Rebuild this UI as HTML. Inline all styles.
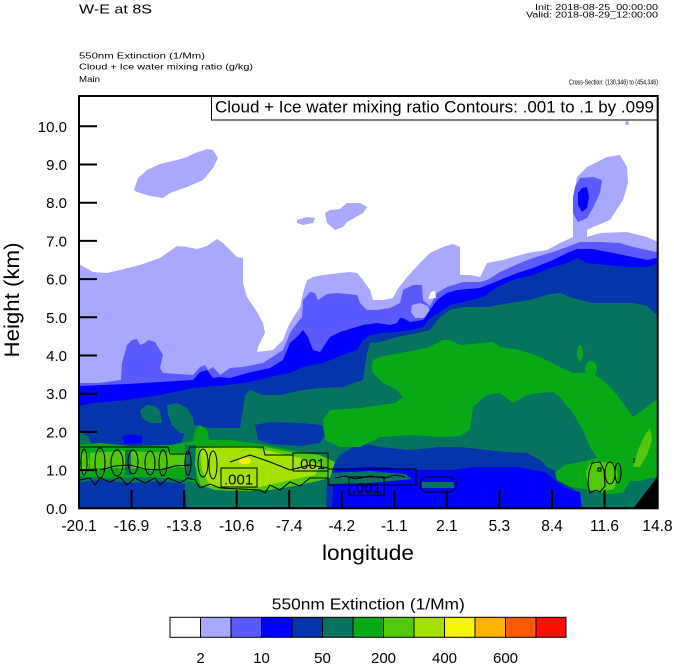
<!DOCTYPE html>
<html><head><meta charset="utf-8"><style>
html,body{margin:0;padding:0;background:#fff;}
svg{display:block;font-family:"Liberation Sans",Arial,sans-serif;}
</style></head><body>
<svg width="674" height="667" viewBox="0 0 674 667" xmlns="http://www.w3.org/2000/svg">
<defs><clipPath id="pc"><rect x="79" y="96" width="579" height="412.5"/></clipPath></defs>
<rect x="0" y="0" width="674" height="667" fill="#fff"/>

<!-- header -->
<text x="79" y="13.5" font-size="13" textLength="73" lengthAdjust="spacingAndGlyphs">W-E at 8S</text>
<text x="658" y="10" font-size="8.5" text-anchor="end" textLength="123" lengthAdjust="spacingAndGlyphs">Init: 2018-08-25_00:00:00</text>
<text x="658" y="17.5" font-size="8.5" text-anchor="end" textLength="132" lengthAdjust="spacingAndGlyphs">Valid: 2018-08-29_12:00:00</text>
<text x="79" y="58.5" font-size="8.5" textLength="126" lengthAdjust="spacingAndGlyphs">550nm Extinction   (1/Mm)</text>
<text x="79" y="69.5" font-size="8.5" textLength="174" lengthAdjust="spacingAndGlyphs">Cloud + Ice water mixing ratio   (g/kg)</text>
<text x="79" y="82" font-size="8.5" textLength="21" lengthAdjust="spacingAndGlyphs">Main</text>
<text x="658" y="84.5" font-size="7.5" text-anchor="end" textLength="89" lengthAdjust="spacingAndGlyphs">Cross-Section: (130,346) to (454,346)</text>

<g clip-path="url(#pc)">
<!-- lavender -->
<path fill="#a8a8ff" d="M79,264 L93,272 L107,273 L120,270 L140,265 L160,258 L177,246 L187,247 L197,249 L207,246 L217,239 L223,243 L230,250 L237,257 L243,258 L243,283 L247,297 L257,312 L263,323 L265,333 L258,347 L257,352 L273,350 L283,340 L288,327 L293,318 L300,307 L303,293 L307,280 L313,277 L323,275 L340,273 L350,272 L357,273 L363,280 L370,290 L373,300 L383,300 L393,298 L397,290 L407,277 L420,263 L430,253 L443,247 L453,244 L460,247 L460,275 L470,275 L480,277 L487,263 L503,260 L527,253 L547,250 L560,243 L573,237 L573,223 L573,200 L577,177 L587,167 L607,157 L620,155 L627,167 L628,183 L623,200 L610,220 L593,227 L587,230 L587,237 L600,233 L627,232 L647,237 L660,243 L660,510 L79,510 Z"/>
<path fill="#a8a8ff" d="M134,190 L138,178 L147,170 L160,164 L177,160 L187,157 L195,153 L207,149 L213,150 L218,158 L213,168 L203,180 L187,187 L170,193 L163,198 L150,196 L137,192 Z"/>
<path fill="#a8a8ff" d="M297,220 L307,217 L315,218 L313,223 L303,225 L297,223 Z"/>
<path fill="#a8a8ff" d="M325,213 L330,210 L340,209 L347,203 L360,203 L367,207 L363,213 L347,222 L343,227 L335,230 L327,223 Z"/>
<circle cx="627" cy="123" r="2" fill="#a8a8ff"/>

<!-- medium -->
<path fill="#5a5aff" d="M79,383 L99,383 L121,380 L122,363 L127,345 L132,340 L137,339 L140,345 L145,343 L148,340 L155,342 L160,350 L163,355 L160,368 L163,373 L193,375 L200,367 L205,365 L208,370 L213,367 L220,375 L230,368 L243,367 L263,363 L283,350 L290,333 L297,323 L302,317 L303,300 L310,292 L315,293 L318,300 L327,294 L337,293 L357,295 L360,303 L367,310 L377,310 L390,308 L400,303 L403,290 L413,285 L422,285 L423,300 L430,306 L437,293 L447,287 L463,282 L480,282 L487,280 L500,272 L520,263 L533,258 L553,252 L567,247 L580,242 L600,242 L620,243 L633,247 L647,250 L660,253 L660,510 L79,510 Z"/>
<path fill="#5a5aff" d="M573,197 L575,187 L580,178 L593,177 L602,180 L600,193 L593,208 L587,218 L578,222 L573,213 Z"/>
<path fill="#a8a8ff" d="M412,305 L420,303 L428,306 L430,312 L425,318 L415,318 L411,312 Z"/>
<path fill="#ffffff" d="M428,299 L431,292 L435,291 L436,298 Z"/>

<!-- blue -->
<path fill="#0000ff" d="M79,386 L127,384 L160,382 L193,380 L200,372 L207,370 L213,378 L220,377 L230,378 L247,373 L270,368 L283,360 L290,343 L297,337 L303,330 L308,337 L313,350 L320,352 L330,337 L340,332 L353,328 L363,325 L377,323 L390,325 L397,323 L400,318 L403,318 L410,322 L423,320 L430,310 L437,300 L447,293 L457,290 L480,288 L500,280 L517,273 L533,268 L553,260 L567,253 L577,249 L593,249 L613,253 L633,257 L647,260 L660,257 L660,510 L79,510 Z"/>
<path fill="#0000ff" d="M578,193 L582,188 L587,187 L589,197 L587,208 L582,212 L578,205 Z"/>

<!-- dark blue -->
<path fill="#0535aa" d="M79,406 L93,403 L127,400 L160,395 L193,388 L227,385 L250,382 L270,377 L290,373 L303,367 L323,363 L343,355 L357,350 L363,340 L370,335 L383,333 L397,332 L410,330 L423,327 L430,318 L440,312 L450,305 L463,302 L483,297 L497,287 L513,280 L533,275 L550,268 L567,263 L577,258 L587,263 L607,265 L627,267 L647,267 L660,263 L660,510 L79,510 Z"/>

<!-- teal -->
<path fill="#06735f" d="M140,410 L147,405 L155,406 L160,412 L162,423 L150,423 L142,418 Z"/>
<path fill="#06735f" d="M167,405 L177,403 L187,408 L193,418 L195,433 L180,433 L172,425 L168,415 Z"/>
<path fill="#06735f" d="M79,432 L88,436 L92,446 L180,446 L186,430 L193,425 L200,426 L210,428 L240,428 L245,395 L250,390 L263,395 L280,395 L303,390 L320,388 L343,387 L363,380 L367,353 L370,343 L380,342 L397,337 L417,333 L430,330 L440,317 L450,310 L463,307 L487,307 L510,303 L530,300 L550,294 L560,293 L573,298 L593,303 L633,303 L647,306 L660,318 L660,510 L79,510 Z"/>
<path fill="#0000ff" d="M122,437 L130,434 L142,436 L142,443 L125,444 Z"/>
<path fill="#0535aa" d="M255,425 L270,422 L300,423 L322,425 L325,435 L320,443 L300,446 L270,444 L258,440 Z"/>

<!-- bottom lower-value areas -->
<path fill="#0535aa" d="M79,482 L100,480 L130,483 L160,481 L185,484 L187,510 L79,510 Z"/>
<path fill="#0535aa" d="M326,490 L330,470 L340,455 L360,443 L380,447 L410,450 L440,447 L460,447 L487,450 L507,452 L527,453 L540,460 L547,467 L560,473 L572,485 L575,510 L326,510 Z"/>
<path fill="#0000ff" d="M332,510 L334,470 L360,467 L383,467 L414,470 L453,470 L474,467 L517,467 L545,472 L552,478 L565,488 L580,492 L582,510 Z"/>
<path fill="#06735f" d="M330,473 L370,471 L405,474 L412,479 L370,483 L330,484 Z"/>
<path fill="#06735f" d="M422,482 L454,482 L454,488 L422,488 Z"/>

<!-- green main -->
<path fill="#07aa15" d="M373,360 L380,357 L400,353 L427,348 L443,340 L450,340 L460,345 L493,342 L500,347 L520,350 L540,357 L560,367 L573,373 L590,373 L600,378 L613,390 L623,403 L633,417 L643,410 L660,397 L660,477 L650,478 L640,481 L630,481 L623,493 L607,494 L590,490 L570,487 L557,480 L555,472 L565,465 L590,460 L597,458 L590,447 L583,430 L573,413 L560,397 L553,392 L540,393 L527,395 L513,403 L500,393 L487,395 L473,407 L470,430 L460,436 L440,437 L410,435 L380,437 L360,447 L340,447 L325,440 L323,420 L330,410 L360,408 L395,403 L403,397 L397,390 L383,383 L373,373 L372,367 Z"/>
<ellipse cx="580" cy="353" rx="3" ry="8" fill="#07aa15"/>
<ellipse cx="591" cy="369" rx="6" ry="8" fill="#07aa15"/>

<!-- left contour region -->
<path fill="#07aa15" d="M79,445 L100,443 L130,446 L170,445 L200,440 L230,440 L260,444 L290,450 L320,455 L330,462 L320,475 L300,480 L270,487 L240,490 L220,487 L200,484 L185,480 L170,478 L140,477 L110,478 L90,477 L79,476 Z"/>
<path fill="#07aa15" d="M195,430 L200,425 L207,430 L210,445 L200,450 L193,445 Z"/>
<path fill="#52c80c" d="M90,453 L120,451 L150,452 L185,453 L186,467 L150,469 L120,468 L90,468 Z"/>
<path fill="#06735f" d="M125,450 L131,450 L131,475 L125,475 Z"/>
<path fill="#06735f" d="M185,445 L196,445 L196,480 L185,480 Z"/>
<ellipse cx="85" cy="462" rx="4" ry="10" fill="#52c80c"/>
<path fill="#52c80c" d="M196,446 L260,446 L290,452 L320,455 L335,462 L330,478 L300,485 L270,490 L240,491 L215,490 L200,485 L195,465 Z"/>
<path fill="#a5e100" d="M200,448 L250,447 L275,452 L300,458 L320,465 L315,475 L290,480 L260,487 L230,488 L210,486 L202,470 Z"/>
<ellipse cx="245" cy="461" rx="6" ry="3.5" fill="#f5f500"/>

<!-- right bottom -->
<path fill="#52c80c" d="M588,465 L600,462 L614,463 L618,475 L614,489 L600,492 L590,490 L586,475 Z"/>
<path fill="#52c80c" d="M633,467 L638,450 L645,435 L650,428 L652,440 L647,455 L640,467 Z"/>
<path fill="#000" d="M633,509 L658,476 L658,509 Z"/>

<!-- contours -->
<g fill="none" stroke="#000" stroke-width="1">
<polyline points="80,447 168,447 170,454 188,454 190,447 198,447 263,447 265,455 293,455"/>
<polyline points="80,480 90,478 95,485 100,478 110,482 120,477 127,485 135,478 145,483 155,478 160,485 168,478 180,483 188,478 195,480 200,488 210,484 220,488 260,490 265,493 270,485 280,490 290,482 300,486 310,478 328,478"/>
<polyline points="100,470 115,466 130,465 145,469 160,470 175,466 190,465"/>
<polyline points="230,462 250,455 270,462 290,470 310,465 328,468"/>
<ellipse cx="84" cy="462" rx="3" ry="13"/>
<ellipse cx="100" cy="463" rx="5" ry="15"/>
<ellipse cx="117" cy="463" rx="6" ry="13"/>
<ellipse cx="133" cy="462" rx="5" ry="12"/>
<ellipse cx="150" cy="463" rx="5" ry="12"/>
<ellipse cx="163" cy="463" rx="4" ry="13"/>
<ellipse cx="188" cy="463" rx="3" ry="12"/>
<ellipse cx="203" cy="463" rx="5" ry="14"/>
<ellipse cx="213" cy="465" rx="4" ry="14"/>
<rect x="328" y="469" width="88" height="16"/>
<polyline points="335,478 345,476 355,479 370,476 385,478 395,475 405,477"/>
<rect x="420" y="477" width="36" height="15" rx="7"/>
<path d="M592,463 L600,462 L604,470 L605,486 L600,492 L596,490 L590,493 L588,485 L589,472 Z"/>
<ellipse cx="610" cy="473" rx="5" ry="11"/>
<ellipse cx="618" cy="473" rx="3" ry="10"/>
<rect x="598" y="468" width="3" height="3"/>
<line x1="634" y1="458" x2="634" y2="463"/>
<rect x="221" y="468" width="36" height="19"/>
<rect x="293" y="453" width="35" height="18"/>
<rect x="349" y="477" width="35" height="18"/>
</g>
<text x="224" y="484.5" font-size="15">.001</text>
<text x="296" y="469" font-size="15">.001</text>
<text x="352" y="493" font-size="15">.001</text>
</g>

<!-- legend box -->
<rect x="211.5" y="96" width="446" height="24" fill="#fff" stroke="#000" stroke-width="1"/>
<text x="215" y="112.7" font-size="16.5" textLength="439" lengthAdjust="spacingAndGlyphs">Cloud + Ice water mixing ratio Contours: .001 to .1 by .099</text>

<!-- frame -->
<rect x="79" y="96" width="578.7" height="412.3" fill="none" stroke="#000" stroke-width="2"/>

<!-- ticks -->
<g stroke="#000" stroke-width="2">
<line x1="79" y1="470.1" x2="97" y2="470.1"/>
<line x1="79" y1="431.9" x2="97" y2="431.9"/>
<line x1="79" y1="393.7" x2="97" y2="393.7"/>
<line x1="79" y1="355.5" x2="97" y2="355.5"/>
<line x1="79" y1="317.3" x2="97" y2="317.3"/>
<line x1="79" y1="279.1" x2="97" y2="279.1"/>
<line x1="79" y1="240.9" x2="97" y2="240.9"/>
<line x1="79" y1="202.7" x2="97" y2="202.7"/>
<line x1="79" y1="164.5" x2="97" y2="164.5"/>
<line x1="79" y1="126.3" x2="97" y2="126.3"/>
<line x1="131.6" y1="490" x2="131.6" y2="508"/>
<line x1="184.1" y1="490" x2="184.1" y2="508"/>
<line x1="236.7" y1="490" x2="236.7" y2="508"/>
<line x1="289.2" y1="490" x2="289.2" y2="508"/>
<line x1="341.8" y1="490" x2="341.8" y2="508"/>
<line x1="394.3" y1="490" x2="394.3" y2="508"/>
<line x1="446.9" y1="490" x2="446.9" y2="508"/>
<line x1="499.4" y1="490" x2="499.4" y2="508"/>
<line x1="552" y1="490" x2="552" y2="508"/>
<line x1="604.5" y1="490" x2="604.5" y2="508"/>
</g>

<!-- y labels -->
<g font-size="15" text-anchor="end">
<text x="67" y="513.8">0.0</text>
<text x="67" y="475.6">1.0</text>
<text x="67" y="437.4">2.0</text>
<text x="67" y="399.2">3.0</text>
<text x="67" y="361">4.0</text>
<text x="67" y="322.8">5.0</text>
<text x="67" y="284.6">6.0</text>
<text x="67" y="246.4">7.0</text>
<text x="67" y="208.2">8.0</text>
<text x="67" y="170">9.0</text>
<text x="67" y="131.8">10.0</text>
</g>
<!-- x labels -->
<g font-size="15.5" text-anchor="middle">
<text x="79" y="531">-20.1</text>
<text x="131.6" y="531">-16.9</text>
<text x="184.1" y="531">-13.8</text>
<text x="236.7" y="531">-10.6</text>
<text x="289.2" y="531">-7.4</text>
<text x="341.8" y="531">-4.2</text>
<text x="394.3" y="531">-1.1</text>
<text x="446.9" y="531">2.1</text>
<text x="499.4" y="531">5.3</text>
<text x="552" y="531">8.4</text>
<text x="604.5" y="531">11.6</text>
<text x="657.5" y="531">14.8</text>
</g>
<text x="368" y="560" font-size="21" text-anchor="middle" textLength="92" lengthAdjust="spacingAndGlyphs">longitude</text>
<text transform="translate(19,300) rotate(-90)" font-size="21" text-anchor="middle" textLength="115" lengthAdjust="spacingAndGlyphs">Height (km)</text>

<!-- colorbar -->
<text x="368.3" y="609.5" font-size="16" text-anchor="middle" textLength="193" lengthAdjust="spacingAndGlyphs">550nm Extinction  (1/Mm)</text>
<g stroke="#000" stroke-width="1">
<rect x="170" y="617.3" width="30.5" height="20" fill="#ffffff"/>
<rect x="200.5" y="617.3" width="30.5" height="20" fill="#a8a8ff"/>
<rect x="231" y="617.3" width="30.5" height="20" fill="#5a5aff"/>
<rect x="261.5" y="617.3" width="30.5" height="20" fill="#0000ff"/>
<rect x="292" y="617.3" width="30.5" height="20" fill="#0535aa"/>
<rect x="322.5" y="617.3" width="30.5" height="20" fill="#06735f"/>
<rect x="353" y="617.3" width="30.5" height="20" fill="#07aa15"/>
<rect x="383.5" y="617.3" width="30.5" height="20" fill="#52c80c"/>
<rect x="414" y="617.3" width="30.5" height="20" fill="#a5e100"/>
<rect x="444.5" y="617.3" width="30.5" height="20" fill="#f5f500"/>
<rect x="475" y="617.3" width="30.5" height="20" fill="#ffb400"/>
<rect x="505.5" y="617.3" width="30.5" height="20" fill="#ff5a00"/>
<rect x="536" y="617.3" width="30" height="20" fill="#ff0f00"/>
</g>
<g font-size="15" text-anchor="middle">
<text x="200.5" y="663">2</text>
<text x="261.5" y="663">10</text>
<text x="322.5" y="663">50</text>
<text x="383.5" y="663">200</text>
<text x="444.5" y="663">400</text>
<text x="505.5" y="663">600</text>
</g>
</svg>
</body></html>
